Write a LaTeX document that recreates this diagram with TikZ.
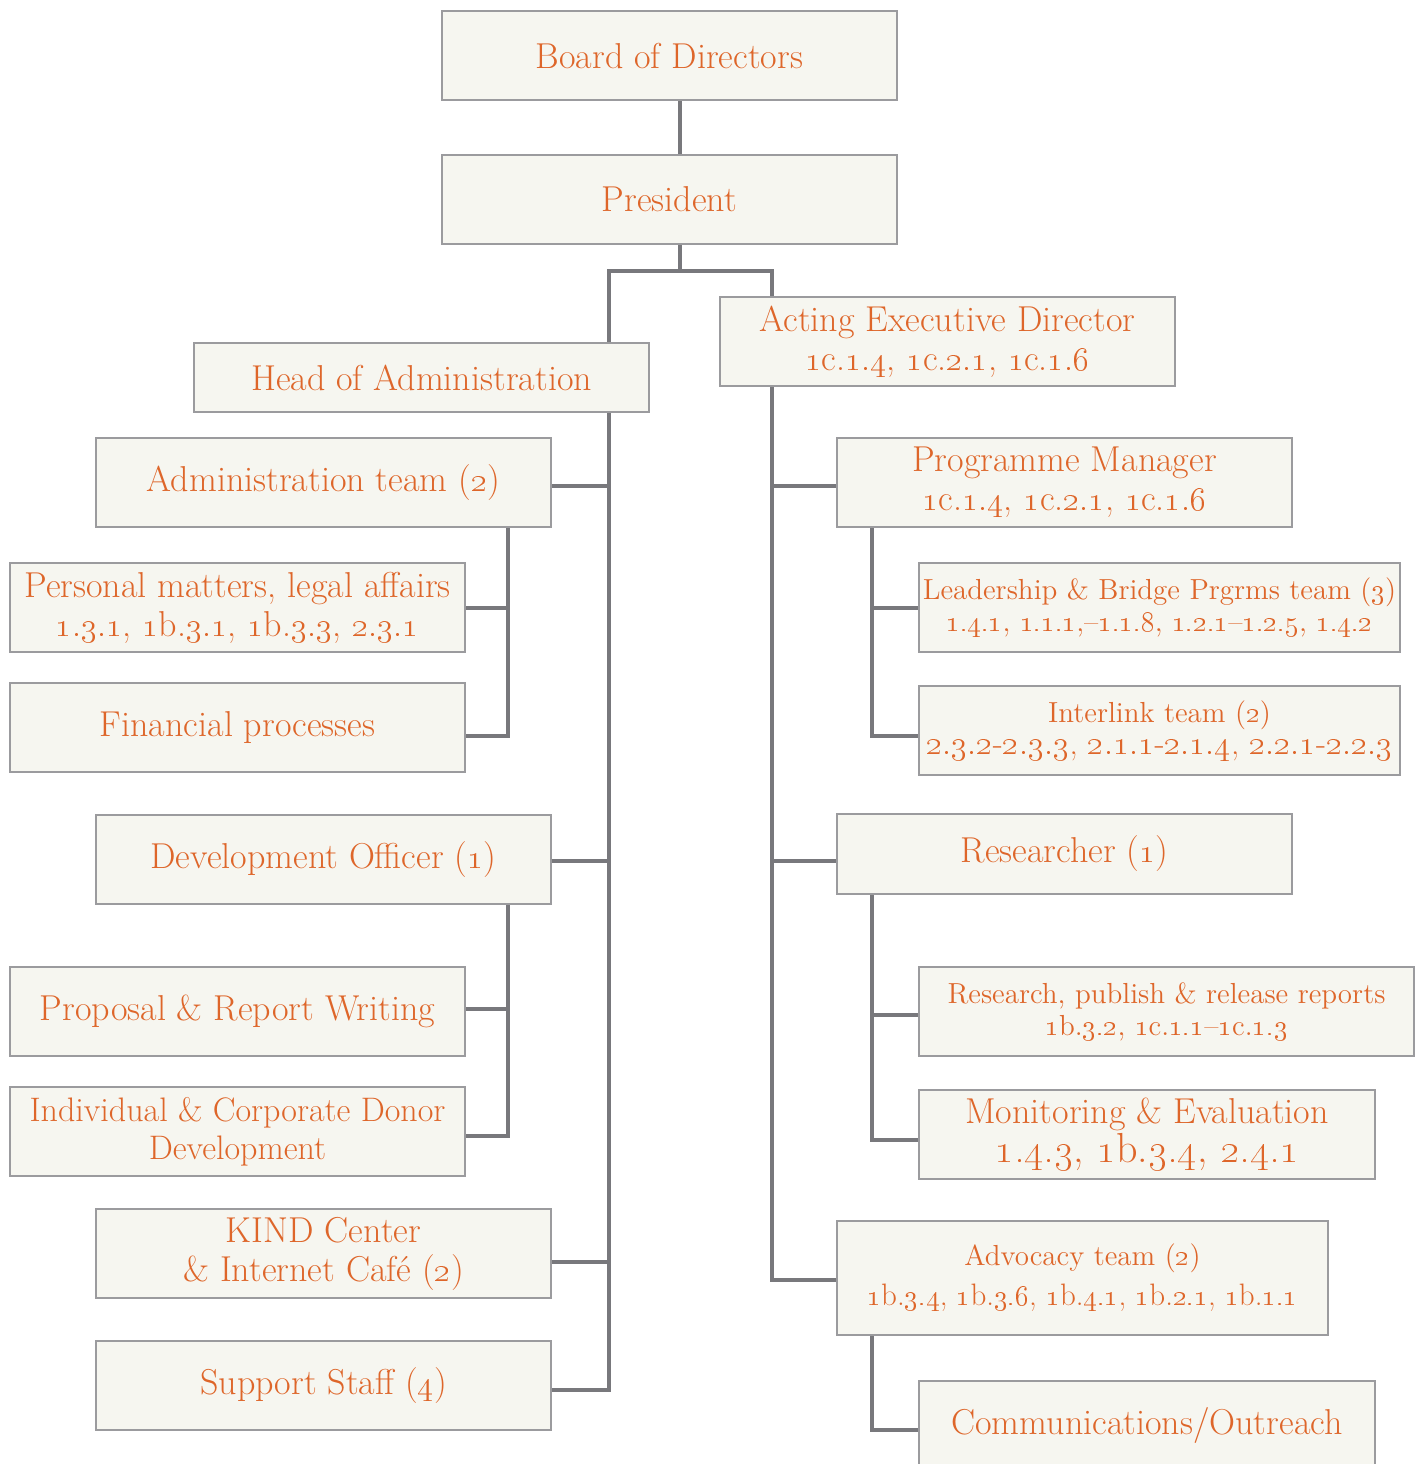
\documentclass[tikz,border=0pt]{standalone}
\usetikzlibrary{calc}
\definecolor{txtorange}{RGB}{222,102,42}
\definecolor{boxfill}{RGB}{246,246,240}
\definecolor{boxline}{RGB}{155,155,158}
\definecolor{linkgray}{RGB}{120,120,124}
\newcommand\on[1]{\oldstylenums{#1}}
\begin{document}
\begin{tikzpicture}[x=0.5pt,y=-0.5pt,
  box/.style={draw=boxline, line width=1pt, fill=boxfill, text=txtorange, align=center, inner sep=0pt,
    minimum width=227.5pt, minimum height=44.5pt, font=\fontsize{18}{19.5}\selectfont},
  sbox/.style={box, font=\fontsize{14.5}{16}\selectfont},
  link/.style={draw=linkgray, line width=2pt}]
\useasboundingbox (0,0) rectangle (1418,1464);
\clip (0,0) rectangle (1418,1464);

\coordinate (tx) at (680,0);
\coordinate (jl) at (609,271);
\coordinate (jm) at (680,271);
\coordinate (jr) at (772,271);
\coordinate (as) at (508,0);
\coordinate (ps) at (872,0);

\path
 (669.5,55.5) node[box] (board) {}
 (669.5,199) node[box] (pres) {}
 (421.5,377.5) node[box, minimum height=34.5pt] (head) {}
 (947.5,341.5) node[box] (aed) {}
 (323.5,482.5) node[box] (adm) {}
 (237.5,607.5) node[box] (pers) {}
 (237.5,727.5) node[box] (fin) {}
 (323.5,859.5) node[box] (dev) {}
 (237.5,1011.5) node[box] (prop) {}
 (237.5,1131.5) node[box] (indiv) {}
 (323.5,1253.5) node[box] (kind) {}
 (323.5,1385.5) node[box] (supp) {}
 (1064.5,482.5) node[box] (pm) {}
 (1159.5,607.5) node[box, minimum width=240.5pt] (lead) {}
 (1159.5,730.5) node[box, minimum width=240.5pt] (inter) {}
 (1064.5,854) node[box, minimum height=40pt] (res) {}
 (1166.5,1011.5) node[box, minimum width=247.5pt] (rpub) {}
 (1147,1134.5) node[box, minimum width=228pt] (mon) {}
 (1082.5,1278) node[box, minimum width=245.5pt, minimum height=57pt] (adv) {}
 (1147,1425.5) node[box, minimum width=228pt] (comm) {};

% connectors
\draw[link] (board.south -| tx) -- (pres.north -| tx);
\draw[link] (pres.south -| tx) -- (jm);
\draw[link] (jl |- head.north) -- (jl) -- (jr) -- (jr |- aed.north);
\draw[link] (jl |- head.south) -- ($(jl |- supp.east)+(0,4.5)$) -- ($(supp.east)+(0,4.5)$);
\draw[link] ([yshift=-1.75pt]adm.east) -- ([yshift=-1.75pt]adm.east -| jl);
\draw[link] ([yshift=-0.75pt]dev.east) -- ([yshift=-0.75pt]dev.east -| jl);
\draw[link] ([yshift=-4.25pt]kind.east) -- ([yshift=-4.25pt]kind.east -| jl);
\draw[link] (adm.south -| as) -- ($(as |- fin.east)+(0,8.5)$) -- ($(fin.east)+(0,8.5)$);
\draw[link] (pers.east) -- (pers.east -| as);
\draw[link] (dev.south -| as) -- ($(as |- indiv.east)+(0,4.5)$) -- ($(indiv.east)+(0,4.5)$);
\draw[link] ($(prop.east)+(0,-2.5)$) -- ($(prop.east -| as)+(0,-2.5)$);
\draw[link] (aed.south -| jr) -- ($(jr |- adv.west)+(0,2)$) -- ($(adv.west)+(0,2)$);
\draw[link] ($(pm.west)+(0,3.5)$) -- ($(pm.west -| jr)+(0,3.5)$);
\draw[link] ($(res.west)+(0,7)$) -- ($(res.west -| jr)+(0,7)$);
\draw[link] (pm.south -| ps) -- ($(ps |- inter.west)+(0,5.5)$) -- ($(inter.west)+(0,5.5)$);
\draw[link] (lead.west) -- (lead.west -| ps);
\draw[link] (res.south -| ps) -- ($(ps |- mon.west)+(0,5.5)$) -- ($(mon.west)+(0,5.5)$);
\draw[link] ($(rpub.west)+(0,3.5)$) -- ($(rpub.west -| ps)+(0,3.5)$);
\draw[link] (adv.south -| ps) -- ($(ps |- comm.west)+(0,4.5)$) -- ($(comm.west)+(0,4.5)$);

% boxes on top
\node[box] at (board) {Board of Directors};
\node[box] at (pres) {President};
\node[box, minimum height=34.5pt] at (head) {Head of Administration};
\node[box] at (aed) {Acting Executive Director\\\on{1}c.\on{1.4}, \on{1}c.\on{2.1}, \on{1}c.\on{1.6}};
\node[box] at (adm) {Administration team (\on{2})};
\node[box] at (pers) {Personal matters, legal affairs\\\on{1.3.1}, \on{1}b.\on{3.1}, \on{1}b.\on{3.3}, \on{2.3.1}};
\node[box] at (fin) {Financial processes};
\node[box] at (dev) {Development Officer (\on{1})};
\node[box] at (prop) {Proposal \& Report Writing};
\node[box, font=\fontsize{17}{19}\selectfont] at (indiv) {Individual \& Corporate Donor\\Development};
\node[box] at (kind) {KIND Center\\\& Internet Caf\'e (\on{2})};
\node[box] at (supp) {Support Staff (\on{4})};
\node[box] at (pm) {Programme Manager\\\on{1}c.\on{1.4}, \on{1}c.\on{2.1}, \on{1}c.\on{1.6}};
\node[sbox, minimum width=240.5pt] at (lead) {Leadership \& Bridge Prgrms team (\on{3})\\\on{1.4.1}, \on{1.1.1},--\on{1.1.8}, \on{1.2.1}--\on{1.2.5}, \on{1.4.2}};
\node[sbox, minimum width=240.5pt] at (inter) {Interlink team (\on{2})\\{\fontsize{16.5}{16}\selectfont\on{2.3.2}-\on{2.3.3}, \on{2.1.1}-\on{2.1.4}, \on{2.2.1}-\on{2.2.3}}};
\node[box, minimum height=40pt] at (res) {Researcher (\on{1})};
\node[sbox, minimum width=247.5pt] at (rpub) {Research, publish \& release reports\\\on{1}b.\on{3.2}, \on{1}c.\on{1.1}--\on{1}c.\on{1.3}};
\node[box, minimum width=228pt] at (mon) {Monitoring \& Evaluation\\{\fontsize{21}{19.5}\selectfont\on{1.4.3}, \on{1}b.\on{3.4}, \on{2.4.1}}};
\node[sbox, minimum width=245.5pt, minimum height=57pt, font=\fontsize{14.5}{20}\selectfont] at (adv) {Advocacy team (\on{2})\\{\fontsize{15.5}{20}\selectfont\on{1}b.\on{3.4}, \on{1}b.\on{3.6}, \on{1}b.\on{4.1}, \on{1}b.\on{2.1}, \on{1}b.\on{1.1}}};
\node[box, minimum width=228pt, text depth=5pt] at (comm) {Communications/Outreach};
\end{tikzpicture}
\end{document}
